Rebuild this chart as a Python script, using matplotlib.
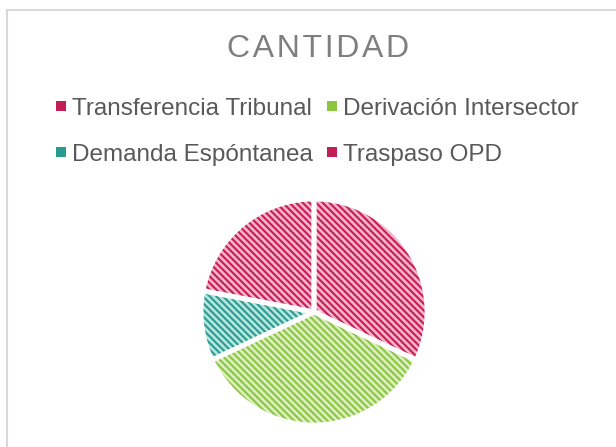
import matplotlib.pyplot as plt
from matplotlib.lines import Line2D
from matplotlib.patches import Patch

# data (share of total, %)
labels = ['Transferencia Tribunal', 'Derivación Intersector', 'Demanda Espóntanea', 'Traspaso OPD']
values = [32, 36, 10, 22]
hatch_colors = ['#C41E56', '#8CC63F', '#2B9A90', '#C41E56']
face_colors = ['#F6B3C9', '#DCEFC2', '#B5E6DF', '#F6B3C9']

plt.rcParams['font.family'] = ['Liberation Sans', 'DejaVu Sans']
plt.rcParams['hatch.linewidth'] = 1.5

fig = plt.figure(figsize=(6.16, 4.47), dpi=100)

# light grey frame (top and left edges visible)
fig.add_artist(Line2D([6.5/616, 6.5/616], [0, 1 - 9.5/447], color='#D9D9D9', lw=1.5))
fig.add_artist(Line2D([6.5/616, 1], [1 - 9.5/447, 1 - 9.5/447], color='#D9D9D9', lw=1.5))

ax = fig.add_axes([(314 - 116) / 616, (447 - 312 - 116) / 447, 232 / 616, 232 / 447])
r = 113 / 116
wedges, _ = ax.pie(values, startangle=90, counterclock=False, radius=r,
                   colors=face_colors, wedgeprops=dict(linewidth=0))
for w, hc in zip(wedges, hatch_colors):
    w.set_hatch('\\' * 5)
    w.set_edgecolor(hc)
# white separators on top
ax.pie(values, startangle=90, counterclock=False, radius=r,
       wedgeprops=dict(facecolor='none', edgecolor='white', linewidth=3.5))
ax.set_xlim(-1, 1)
ax.set_ylim(-1, 1)
ax.set_aspect('equal')

fig.text(0.517, 1 - 49 / 447, '\u200a'.join('CANTIDAD'), ha='center', va='center',
         fontsize=23, color='#7F7F7F')

order = [0, 2, 1, 3]
handles = [Patch(facecolor=hatch_colors[i], edgecolor='none') for i in order]
leg = fig.legend(handles, [labels[i] for i in order], ncol=2,
                 loc='center', bbox_to_anchor=(0.515, 1 - 132 / 447),
                 frameon=False, fontsize=17.5, handlelength=0.4, handleheight=0.25,
                 handletextpad=0.25, columnspacing=0.6, labelspacing=1.0)
for t in leg.get_texts():
    t.set_color('#595959')

fig.savefig('out.png', dpi=100)
